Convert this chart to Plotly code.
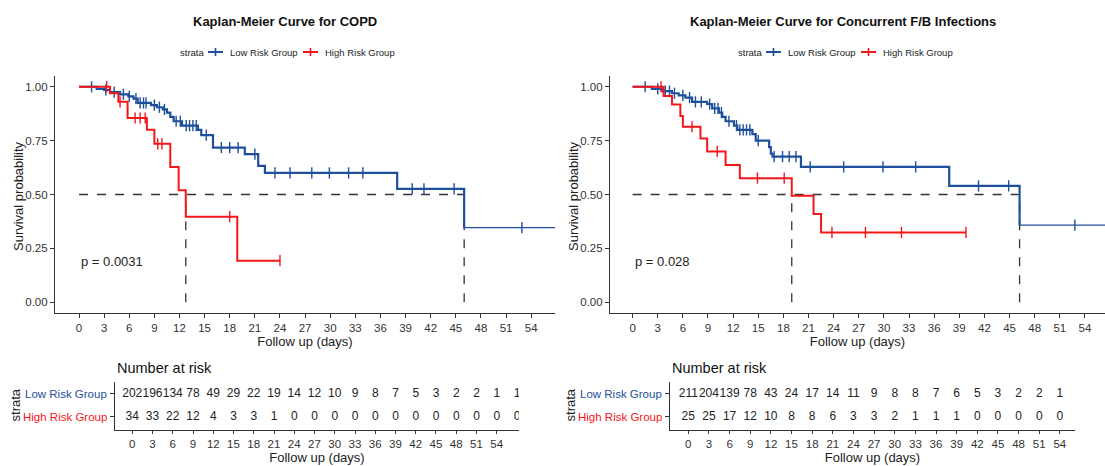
import plotly.graph_objects as go

# ---------------- data ----------------
BLUE = "#1E4F9C"
RED = "#F5161A"
INK = "#222222"

groups = ["Low Risk Group", "High Risk Group"]

# COPD: Kaplan-Meier step points (time in days, survival probability)
copd_low_t = [0, 2.1, 3.0, 3.7, 4.9, 5.9, 6.5, 7.0, 8.6, 9.3, 10.0, 10.5, 10.9, 11.3,
              12.3, 14.2, 14.6, 16.0, 19.8, 21.4, 22.2, 38.0, 46.0, 57.5]
copd_low_s = [1.0, 0.99, 0.985, 0.975, 0.965, 0.955, 0.945, 0.925, 0.915, 0.905, 0.895,
              0.88, 0.86, 0.84, 0.82, 0.80, 0.776, 0.718, 0.687, 0.633, 0.600, 0.526,
              0.346, 0.346]
copd_low_cens = [1.5, 3.2, 4.2, 5.3, 6.0, 6.8, 7.3, 7.7, 8.0, 9.0, 9.6, 10.2, 11.6, 12.1,
                 12.8, 13.2, 13.6, 14.0, 15.2, 17.0, 18.0, 19.0, 21.0, 23.4, 25.2, 27.8,
                 29.9, 32.2, 33.9, 39.8, 41.2, 44.8, 52.9]
copd_high_t = [0, 3.7, 4.7, 5.8, 8.1, 9.0, 10.9, 11.9, 12.75, 18.9, 24.0]
copd_high_s = [1.0, 0.97, 0.93, 0.855, 0.80, 0.735, 0.628, 0.52, 0.397, 0.193, 0.193]
copd_high_cens = [3.3, 4.9, 6.7, 7.3, 7.9, 9.4, 9.9, 18.0, 24.0]
copd_medians = [12.75, 46.0]
copd_p = "p = 0.0031"
copd_risk_t = [0, 3, 6, 9, 12, 15, 18, 21, 24, 27, 30, 33, 36, 39, 42, 45, 48, 51, 54, 57]
copd_risk_low = [202, 196, 134, 78, 49, 29, 22, 19, 14, 12, 10, 9, 8, 7, 5, 3, 2, 2, 1, 1]
copd_risk_high = [34, 33, 22, 12, 4, 3, 3, 1, 0, 0, 0, 0, 0, 0, 0, 0, 0, 0, 0, 0]

# Concurrent F/B infections
fb_low_t = [0, 2.3, 3.5, 4.7, 5.5, 6.3, 7.1, 8.9, 9.5, 10.3, 10.7, 11.1, 12.1, 12.5, 14.3,
            14.7, 16.3, 16.5, 16.7, 20.1, 37.8, 46.2, 57.5]
fb_low_s = [1.0, 0.99, 0.98, 0.97, 0.96, 0.95, 0.93, 0.92, 0.90, 0.88, 0.86, 0.84, 0.82,
            0.80, 0.78, 0.75, 0.72, 0.69, 0.676, 0.628, 0.54, 0.358, 0.358]
fb_low_cens = [1.5, 3.0, 3.9, 4.4, 5.0, 6.0, 6.8, 7.5, 8.2, 9.2, 9.8, 10.2, 10.6, 11.5,
               12.4, 12.8, 13.2, 13.6, 14.0, 15.0, 16.9, 17.9, 18.7, 19.5, 21.2, 25.2,
               29.9, 33.8, 41.3, 44.9, 52.8]
fb_high_t = [0, 3.7, 4.7, 5.7, 6.0, 8.1, 8.9, 11.1, 12.8, 19.0, 21.6, 22.5, 39.8]
fb_high_s = [1.0, 0.957, 0.918, 0.864, 0.815, 0.76, 0.70, 0.637, 0.576, 0.494, 0.409,
             0.324, 0.324]
fb_high_cens = [3.4, 7.1, 10.1, 14.9, 18.1, 23.8, 27.8, 32.1, 39.8]
fb_medians = [19.0, 46.2]
fb_p = "p = 0.028"
fb_risk_t = [0, 3, 6, 9, 12, 15, 18, 21, 24, 27, 30, 33, 36, 39, 42, 45, 48, 51, 54]
fb_risk_low = [211, 204, 139, 78, 43, 24, 17, 14, 11, 9, 8, 8, 7, 6, 5, 3, 2, 2, 1]
fb_risk_high = [25, 25, 17, 12, 10, 8, 8, 6, 3, 3, 2, 1, 1, 1, 0, 0, 0, 0, 0]

x_ticks = list(range(0, 55, 3))
y_ticks = [0, 0.25, 0.5, 0.75, 1.0]

FONT = "Liberation Sans, Arial, sans-serif"
W, H = 1105, 466


def px_x(p):
    return p / W


def px_y(p):
    return 1 - p / H


def step_value(ts, ss, t):
    v = ss[0]
    for ti, si in zip(ts, ss):
        if ti <= t:
            v = si
    return v


fig = go.Figure()

panels = [
    dict(title="Kaplan-Meier Curve for COPD", main=("x", "y"), tab=("x2", "y2"),
         low=(copd_low_t, copd_low_s, copd_low_cens),
         high=(copd_high_t, copd_high_s, copd_high_cens),
         med=copd_medians, p=copd_p,
         risk=(copd_risk_t, copd_risk_low, copd_risk_high),
         main_dom=(55, 555), tab_dom=(115, 519), main_rng=[-2.87, 56.85],
         tab_rng=[-2.56, 57.3], title_x=285, leg_left=178),
    dict(title="Kaplan-Meier Curve for Concurrent F/B Infections", main=("x3", "y3"),
         tab=("x4", "y4"),
         low=(fb_low_t, fb_low_s, fb_low_cens),
         high=(fb_high_t, fb_high_s, fb_high_cens),
         med=fb_medians, p=fb_p,
         risk=(fb_risk_t, fb_risk_low, fb_risk_high),
         main_dom=(610, 1105), tab_dom=(670, 1075), main_rng=[-2.7, 56.4],
         tab_rng=[-2.66, 56.2], title_x=843, leg_left=736),
]

annotations = []
shapes = []
layout_axes = {}
small = dict(size=9.5, color=INK, family=FONT)

for k, pn in enumerate(panels):
    xm, ym = pn["main"]
    xt, yt = pn["tab"]

    # survival curves with censor marks
    for name, color, (ts, ss, cens) in [(groups[0], BLUE, pn["low"]), (groups[1], RED, pn["high"])]:
        med = pn["med"][1]
        if color == BLUE:
            # thinner tail once the curve passes its median drop
            head_t = [t for t in ts if t <= med]
            head_s = ss[:len(head_t)]
            tail_t = [t for t in ts if t >= med]
            tail_s = ss[len(ts) - len(tail_t):]
            fig.add_trace(go.Scatter(x=tail_t, y=tail_s, mode="lines", line=dict(color=color, width=1.3, shape="hv"),
                                     xaxis=xm, yaxis=ym, showlegend=False, hoverinfo="skip"))
            fig.add_trace(go.Scatter(x=head_t, y=head_s, mode="lines", line=dict(color=color, width=2.2, shape="hv"),
                                     xaxis=xm, yaxis=ym, showlegend=False, hoverinfo="skip"))
        else:
            fig.add_trace(go.Scatter(x=ts, y=ss, mode="lines", line=dict(color=color, width=2.0, shape="hv"),
                                     xaxis=xm, yaxis=ym, showlegend=False, hoverinfo="skip"))
        cy = [step_value(ts, ss, c) for c in cens]
        fig.add_trace(go.Scatter(x=cens, y=cy, mode="markers",
                                 marker=dict(symbol="line-ns-open", size=8, color=color,
                                             line=dict(color=color, width=1.4)),
                                 xaxis=xm, yaxis=ym, showlegend=False, hoverinfo="skip"))

    # median reference lines
    line_style = dict(color="#333333", width=1.3, dash="dash")
    shapes.append(dict(type="line", xref=xm, yref=ym, x0=0, x1=max(pn["med"]), y0=0.5, y1=0.5,
                       line=line_style, layer="below"))
    for m in pn["med"]:
        shapes.append(dict(type="line", xref=xm, yref=ym, x0=m, x1=m, y0=0, y1=0.5,
                           line=line_style, layer="below"))

    annotations.append(dict(text=pn["p"], x=0, y=0.19, xref=xm, yref=ym, showarrow=False,
                            xanchor="left", yanchor="middle",
                            font=dict(size=13, color=INK, family=FONT)))

    # strata key above the plot
    L = pn["leg_left"]
    ly = px_y(52)
    annotations.append(dict(text="strata", x=px_x(L), y=ly, xref="paper", yref="paper",
                            showarrow=False, xanchor="left", yanchor="middle", font=small))
    for off, name, color in [(30, groups[0], BLUE), (125, groups[1], RED)]:
        shapes.append(dict(type="line", xref="paper", yref="paper", x0=px_x(L + off),
                           x1=px_x(L + off + 15), y0=ly, y1=ly, line=dict(color=color, width=2)))
        shapes.append(dict(type="line", xref="paper", yref="paper", x0=px_x(L + off + 7.5),
                           x1=px_x(L + off + 7.5), y0=px_y(48), y1=px_y(56),
                           line=dict(color=color, width=1.6)))
        annotations.append(dict(text=name, x=px_x(L + off + 20), y=ly, xref="paper", yref="paper",
                                showarrow=False, xanchor="left", yanchor="middle", font=small))

    # number at risk table
    rt, rlow, rhigh = pn["risk"]
    fig.add_trace(go.Scatter(x=rt, y=[2] * len(rt), mode="text", text=[str(v) for v in rlow],
                             textfont=dict(size=12, color=INK, family=FONT), textposition="middle center",
                             xaxis=xt, yaxis=yt, showlegend=False, hoverinfo="skip"))
    fig.add_trace(go.Scatter(x=rt, y=[1] * len(rt), mode="text", text=[str(v) for v in rhigh],
                             textfont=dict(size=12, color=INK, family=FONT), textposition="middle center",
                             xaxis=xt, yaxis=yt, showlegend=False, hoverinfo="skip"))

    x0 = pn["main_dom"][0] - 55
    for lbl, yv, col in [(groups[0], 2, BLUE), (groups[1], 1, RED)]:
        annotations.append(dict(text=lbl, x=px_x(pn["tab_dom"][0] - 6), y=yv, xref="paper", yref=yt,
                                showarrow=False, xanchor="right", yanchor="middle",
                                font=dict(size=11.5, color=col, family=FONT)))
    annotations.append(dict(text="strata", x=px_x(x0 + 15), y=1.5, xref="paper", yref=yt,
                            showarrow=False, textangle=-90, xanchor="center", yanchor="middle",
                            font=dict(size=13, color=INK, family=FONT)))
    annotations.append(dict(text="Number at risk", x=px_x(pn["tab_dom"][0]), y=px_y(368), xref="paper",
                            yref="paper", showarrow=False, xanchor="left", yanchor="middle",
                            font=dict(size=14.5, color="#111111", family=FONT)))
    annotations.append(dict(text="Survival probability", x=px_x(x0 + 18), y=px_y(196), xref="paper",
                            yref="paper", showarrow=False, textangle=-90, xanchor="center",
                            yanchor="middle", font=dict(size=13, color=INK, family=FONT)))
    annotations.append(dict(text="<b>" + pn["title"] + "</b>", x=px_x(pn["title_x"]), y=px_y(22),
                            xref="paper", yref="paper", showarrow=False, xanchor="center",
                            yanchor="middle", font=dict(size=13, color="#111111", family=FONT)))

    ax_common = dict(showline=True, linecolor="#333333", linewidth=1.1, ticks="outside",
                     ticklen=4, tickcolor="#333333", showgrid=False, zeroline=False,
                     tickfont=dict(size=11.5, color="#333333", family=FONT))
    n = 2 * k
    xm_key = "xaxis" if n == 0 else f"xaxis{n + 1}"
    ym_key = "yaxis" if n == 0 else f"yaxis{n + 1}"
    xt_key = f"xaxis{n + 2}"
    yt_key = f"yaxis{n + 2}"
    layout_axes[xm_key] = dict(ax_common, domain=[px_x(pn["main_dom"][0]), px_x(pn["main_dom"][1])],
                               range=pn["main_rng"], tickvals=x_ticks, anchor=ym,
                               title=dict(text="Follow up (days)", standoff=4,
                                          font=dict(size=13, color=INK, family=FONT)))
    layout_axes[ym_key] = dict(ax_common, domain=[px_y(313), px_y(76)], range=[-0.05, 1.05],
                               tickvals=y_ticks, tickformat=".2f", anchor=xm)
    layout_axes[xt_key] = dict(ax_common, domain=[px_x(pn["tab_dom"][0]), px_x(pn["tab_dom"][1])],
                               range=pn["tab_rng"], tickvals=x_ticks, anchor=yt, ticklen=3,
                               title=dict(text="Follow up (days)", standoff=1,
                                          font=dict(size=13, color=INK, family=FONT)))
    layout_axes[yt_key] = dict(ax_common, domain=[px_y(430), px_y(382)], range=[0.435, 2.52],
                               tickvals=[1, 2], ticktext=["", ""], anchor=xt)

fig.update_layout(
    width=W, height=H, margin=dict(l=0, r=0, t=0, b=0),
    paper_bgcolor="white", plot_bgcolor="white",
    font=dict(family=FONT, color=INK), showlegend=False,
    annotations=annotations, shapes=shapes,
    **layout_axes,
)

fig.write_html("out.html")
